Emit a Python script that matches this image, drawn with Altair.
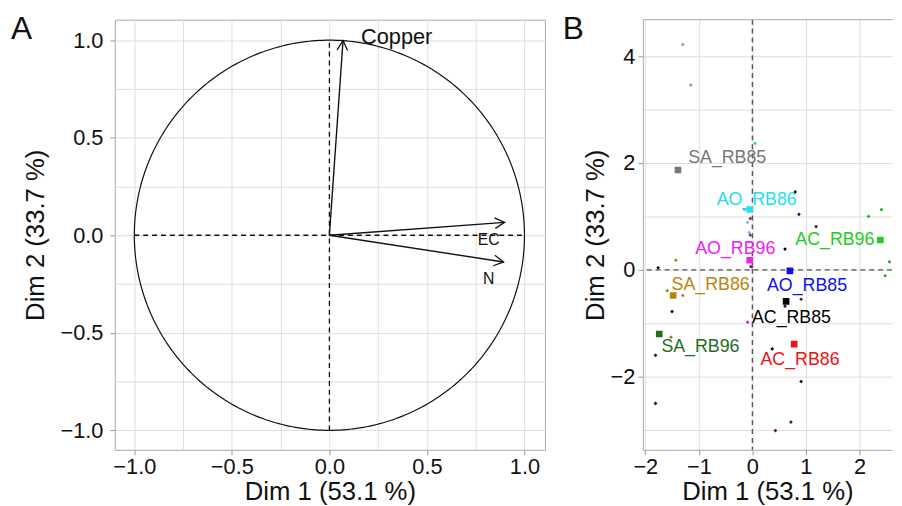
import altair as alt
import numpy as np
import pandas as pd

FONT = "Liberation Sans"

# ---------------- Panel A: variables factor map ----------------
var_names = ["Copper", "EC", "N"]
var_x = [0.070, 0.898, 0.893]
var_y = [0.998, 0.066, -0.137]
var_label_x = [0.345, 0.817, 0.817]
var_label_y = [1.015, -0.025, -0.223]

# ---------------- Panel B: individuals factor map ----------------
groups = ["SA_RB85", "AO_RB86", "AC_RB96", "AO_RB96", "AO_RB85",
          "SA_RB86", "AC_RB85", "SA_RB96", "AC_RB86"]
group_x = [-1.39, -0.05, 2.39, -0.05, 0.70, -1.48, 0.63, -1.74, 0.78]
group_y = [1.87, 1.13, 0.56, 0.18, -0.02, -0.48, -0.59, -1.20, -1.39]
group_label_x = [-0.47, 0.08, 1.54, -0.32, 1.02, -0.78, 0.73, -0.97, 0.89]
group_label_y = [2.09, 1.30, 0.56, 0.39, -0.31, -0.28, -0.91, -1.44, -1.69]
group_palette = ["#777777", "#22E0F0", "#22CC22", "#EE22EE", "#1010EE",
                 "#B8860B", "#000000", "#1F6E1F", "#EE1111"]

ind_x = [-1.30, -1.15, 0.05, -0.09, -0.06, -0.06, -0.15,
         -0.04, -0.04, -0.03, -0.01, -0.09,
         0.80, 0.61, -1.76, -1.50, -1.81, -1.81, 0.37, 0.91,
         0.87, 0.61,
         1.19, 0.91, 0.72, 0.43,
         2.17, 2.41, 2.56, 2.48,
         -1.43, -1.59, -1.30, -1.52]
ind_y = [4.22, 3.46, 2.37, 0.89, 0.70, 0.52, 1.13,
         0.96, 0.65, 0.06, 0.06, -0.98,
         1.46, 0.39, 0.04, -0.78, -1.60, -2.50, -1.48, -2.09,
         1.04, -0.68,
         0.81, -0.55, -2.85, -3.01,
         1.00, 1.13, 0.15, -0.11,
         0.18, -0.39, -0.48, -1.26]
ind_color = (["#999999"] * 2 + ["#33CCDD", "#55CCDD", "#66BBDD", "#99AADD", "#33CCDD"]
             + ["#8B1A8B"] * 4 + ["#CC22CC"]
             + ["#000000"] * 8 + ["#10105A"] * 2 + ["#5A1010"] * 4
             + ["#22AA22"] * 4 + ["#9A7A1A"] * 4)

# ---------------- shared helpers ----------------
one = pd.DataFrame({"k": [0]})


def axis_spec(values, major_test, fmt, title, domain, title_pad, label_pad):
    return alt.Axis(
        values=values,
        labelExpr=f"({major_test}) ? format(datum.value, '{fmt}') : ''",
        tickOpacity={"condition": {"test": major_test, "value": 1}, "value": 0},
        title=title,
        domain=domain,
        domainColor="#aaaaaa",
        grid=True,
        titlePadding=title_pad,
        labelPadding=label_pad,
    )


# ---------------- Panel A ----------------
a_scale = alt.Scale(domain=[-1.1, 1.105], nice=False, zero=False)
a_vals = [round(-1.0 + 0.25 * i, 2) for i in range(9)]
a_major = "abs(datum.value * 2 - round(datum.value * 2)) < 0.001"
ax_a_x = axis_spec(a_vals, a_major, ".1f", "Dim 1 (53.1 %)", False, 1, 2)
ax_a_y = axis_spec(a_vals, a_major, ".1f", "Dim 2 (33.7 %)", False, 12, 7)


def AX(f="x"):
    return alt.X(f"{f}:Q", scale=a_scale, axis=ax_a_x)


def AY(f="y"):
    return alt.Y(f"{f}:Q", scale=a_scale, axis=ax_a_y)


t = np.linspace(0, 2 * np.pi, 361)
circle_df = pd.DataFrame({"x": np.cos(t), "y": np.sin(t), "o": np.arange(len(t))})

vars_df = pd.DataFrame({
    "name": var_names, "x": var_x, "y": var_y,
    "x0": [0.0] * len(var_x), "y0": [0.0] * len(var_x),
    "lx": var_label_x, "ly": var_label_y,
})
vars_df["ang"] = np.degrees(np.arctan2(vars_df["x"], vars_df["y"])) % 360

circle = alt.Chart(circle_df).mark_line(color="#111111", strokeWidth=1.2).encode(
    x=AX(), y=AY(), order="o:Q")

dash_v = alt.Chart(one).mark_rule(color="#111111", strokeDash=[5, 4], strokeWidth=1.3).encode(
    x=alt.datum(0), y=alt.datum(-1), y2=alt.datum(1))
dash_h = alt.Chart(one).mark_rule(color="#111111", strokeDash=[5, 4], strokeWidth=1.3).encode(
    y=alt.datum(0), x=alt.datum(-1), x2=alt.datum(1))

arrows = alt.Chart(vars_df).mark_rule(color="#111111", strokeWidth=1.4).encode(
    x=AX("x0"), y=AY("y0"), x2="x:Q", y2="y:Q")

heads = alt.Chart(vars_df).mark_point(
    shape="M-0.55,1L0,0L0.55,1", filled=False, color="#111111",
    strokeWidth=1.3, size=380, opacity=1).encode(
    x=AX(), y=AY(), angle=alt.Angle("ang:Q", scale=None))

copper_lbl = alt.Chart(vars_df).transform_filter("datum.name == 'Copper'").mark_text(
    font=FONT, fontSize=22, color="#111111").encode(
    x=AX("lx"), y=AY("ly"), text="name:N")
other_lbl = alt.Chart(vars_df).transform_filter("datum.name != 'Copper'").mark_text(
    font=FONT, fontSize=16, color="#111111").encode(
    x=AX("lx"), y=AY("ly"), text="name:N")

tag_a = alt.Chart(pd.DataFrame({"t": ["A"]})).mark_text(
    font=FONT, fontSize=32, align="left", baseline="alphabetic", color="#111111").encode(
    x=alt.value(-105), y=alt.value(20), text="t:N")

left = alt.layer(circle, dash_v, dash_h, arrows, heads, copper_lbl, other_lbl, tag_a).properties(
    width=435, height=435, view=alt.ViewBackground(stroke="#aaaaaa", strokeWidth=1))

# ---------------- Panel B ----------------
bx_scale = alt.Scale(domain=[-2.046, 2.608], nice=False, zero=False)
by_scale = alt.Scale(domain=[-3.37, 4.685], nice=False, zero=False)
bx_vals = [round(-2.0 + 0.5 * i, 2) for i in range(10)]
by_vals = list(range(-3, 5))
bx_major = "abs(datum.value - round(datum.value)) < 0.001"
by_major = "abs(datum.value / 2 - round(datum.value / 2)) < 0.001"
ax_b_x = axis_spec(bx_vals, bx_major, "d", "Dim 1 (53.1 %)", True, 1, 2)
ax_b_y = axis_spec(by_vals, by_major, "d", "Dim 2 (33.7 %)", True, 2, 3)


def BX(f="x"):
    return alt.X(f"{f}:Q", scale=bx_scale, axis=ax_b_x)


def BY(f="y"):
    return alt.Y(f"{f}:Q", scale=by_scale, axis=ax_b_y)


grp_df = pd.DataFrame({"g": groups, "x": group_x, "y": group_y,
                       "lx": group_label_x, "ly": group_label_y})
ind_df = pd.DataFrame({"x": ind_x, "y": ind_y, "c": ind_color})
color_scale = alt.Scale(domain=groups, range=group_palette)

b_dash_v = alt.Chart(one).mark_rule(color="#555555", strokeDash=[5, 4], strokeWidth=1.4).encode(
    x=alt.datum(0))
b_dash_h = alt.Chart(one).mark_rule(color="#555555", strokeDash=[5, 4], strokeWidth=1.4).encode(
    y=alt.datum(0))

inds = alt.Chart(ind_df).mark_point(shape="diamond", filled=True, size=14, opacity=1, clip=True).encode(
    x=BX(), y=BY(), color=alt.Color("c:N", scale=None))

squares = alt.Chart(grp_df).mark_square(size=45, opacity=1, clip=True).encode(
    x=BX(), y=BY(), color=alt.Color("g:N", scale=color_scale, legend=None))

grp_lbl = alt.Chart(grp_df).mark_text(font=FONT, fontSize=18).encode(
    x=BX("lx"), y=BY("ly"), text="g:N",
    color=alt.Color("g:N", scale=color_scale, legend=None))

top_border = alt.Chart(one).mark_rule(color="#aaaaaa", strokeWidth=1).encode(
    x=alt.value(0), x2=alt.value(253), y=alt.value(0))

tag_b = alt.Chart(pd.DataFrame({"t": ["B"]})).mark_text(
    font=FONT, fontSize=32, align="left", baseline="alphabetic", color="#111111").encode(
    x=alt.value(-81), y=alt.value(20), text="t:N")

right = alt.layer(b_dash_v, b_dash_h, inds, squares, grp_lbl, top_border, tag_b).properties(
    width=252, height=435, view=alt.ViewBackground(strokeOpacity=0))

chart = alt.hconcat(left, right, spacing=17).properties(
    padding={"left": 2, "top": 2, "right": 0, "bottom": 0}
).configure_axis(
    labelFont=FONT, titleFont=FONT, labelFontSize=22, titleFontSize=26,
    titleFontWeight="normal", labelColor="#111111", titleColor="#111111",
    tickColor="#999999", tickSize=5, gridColor="#dedede", gridWidth=1,
).configure_view(stroke="#aaaaaa")

chart.save("out.html", embed_options={"renderer": "svg", "actions": False})
